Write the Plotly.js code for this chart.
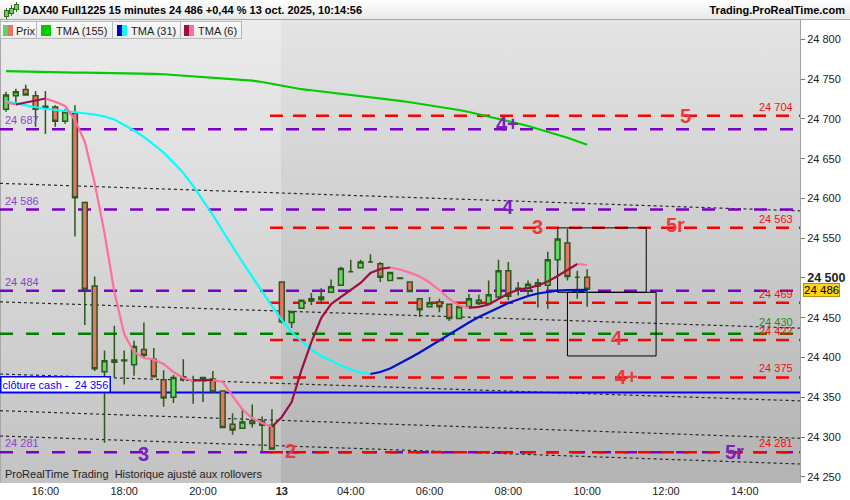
<!DOCTYPE html>
<html><head><meta charset="utf-8">
<script src="https://cdn.plot.ly/plotly-3.0.1.min.js"></script>
<style>
body{margin:0;background:#fff;font-family:"Liberation Sans",Arial,sans-serif;}
#wrap{position:relative;width:850px;height:500px;overflow:hidden;background:#fff;}
#bgFri{position:absolute;top:20px;height:463px;left:0;width:281px;background:linear-gradient(#ececec,#c3c3c3);border-left:1px solid #a8a8a8;box-sizing:border-box;}
#bgMon{position:absolute;top:20px;height:463px;left:281px;width:519px;background:linear-gradient(#e4e4e4,#b3b3b3);}
#chart{position:absolute;left:0;top:0;width:850px;height:500px;}
#hdr{position:absolute;left:0;top:0;width:850px;height:20px;background:linear-gradient(#ffffff,#e8e8e8);border-bottom:1px solid #a9a9a9;box-sizing:border-box;font-weight:bold;font-size:11px;color:#000;}
#hdr .zz-t{position:absolute;left:23px;top:2px;line-height:16px;white-space:nowrap;}
#hdr .zz-r{position:absolute;right:5px;top:2px;line-height:16px;white-space:nowrap;}
.zz-ic{position:absolute;width:3px;background:#5fd35f;border:1px solid #3a6a20;}
.zz-icw{position:absolute;width:1px;background:#3a6a20;}
#zztabs{position:absolute;left:0;top:21px;height:19px;font-size:11px;color:#222;}
.zz-tab{position:absolute;top:0;height:18px;line-height:18px;background:linear-gradient(#fafafa,#ececec);border:1px solid #b9b9b9;box-sizing:border-box;white-space:nowrap;}
.zz-sw{position:absolute;top:3px;height:11px;}
.zz-tx{position:absolute;top:0;}
</style></head>
<body>
<div id="wrap">
  <div id="bgFri"></div>
  <div id="bgMon"></div>
  <div id="chart"></div>
  <div id="hdr">
    <div class="zz-icw" style="left:6px;top:8px;height:11px"></div><div class="zz-ic" style="left:4px;top:10px;height:5px"></div>
    <div class="zz-icw" style="left:11px;top:5px;height:11px"></div><div class="zz-ic" style="left:9px;top:8px;height:4px"></div>
    <div class="zz-icw" style="left:16px;top:2px;height:10px"></div><div class="zz-ic" style="left:14px;top:4px;height:4px"></div>
    <span class="zz-t">DAX40 Full1225 15 minutes 24 486 +0,44 % 13 oct. 2025, 10:14:56</span>
    <span class="zz-r">Trading.ProRealTime.com</span>
  </div>
  <div id="zztabs">
    <div class="zz-tab" style="left:0;width:37px"><div class="zz-sw" style="left:2px;width:5px;background:#5fd35f"></div><div class="zz-sw" style="left:7px;width:5px;background:#e8736b"></div><span class="zz-tx" style="left:15px">Prix</span></div>
    <div class="zz-tab" style="left:36px;width:77px"><div class="zz-sw" style="left:4px;width:10px;background:#00cc00"></div><span class="zz-tx" style="left:19px">TMA (155)</span></div>
    <div class="zz-tab" style="left:112px;width:69px"><div class="zz-sw" style="left:4px;width:5px;background:#0000cc"></div><div class="zz-sw" style="left:9px;width:5px;background:#00ffff"></div><span class="zz-tx" style="left:18px">TMA (31)</span></div>
    <div class="zz-tab" style="left:180px;width:62px"><div class="zz-sw" style="left:3px;width:5px;background:#9b1040"></div><div class="zz-sw" style="left:8px;width:5px;background:#ff6f9c"></div><span class="zz-tx" style="left:17px">TMA (6)</span></div>
  </div>
</div>
<script>
// ---- data ----
const open  = [24712,24729,24737,24729,24714,24715,24697,24707,24595,24490, 24382,24394,24396,24391,24410,24398,24372,24350,24373,24372, 24372,24373,24358,24316,24311,24321,24320,24315,24495,24444, 24462,24471,24473,24482,24491,24508,24513,24520,24518,24497, 24499.5,24495,24474,24464,24470,24467,24449,24464,24472,24468, 24476,24509,24486,24484,24490,24491,24523,24544,24501,24501];
const high  = [24734,24738,24743,24735,24735,24717,24712,24717,24596,24502, 24409,24440,24409,24421,24444,24412,24384,24378,24398,24377, 24376,24383,24359,24330,24336,24341,24326,24335,24496,24458, 24472,24481,24487,24498,24514,24523,24523,24530,24520,24507, 24500.5,24496,24475,24476,24474,24467,24466,24480,24479,24497, 24523,24520,24495,24497,24499,24533,24562,24562,24509,24511];
const low   = [24709,24719,24729,24690,24681,24690,24694,24552,24441,24383, 24293,24375,24366,24377,24399,24375,24338,24343,24370,24342, 24344,24357,24312,24303,24311,24312,24282,24284,24443,24437, 24461,24466,24468,24481,24490,24507,24512,24519,24495,24497, 24499,24482,24451,24463,24457,24446,24449,24463,24466,24466, 24473,24472,24478,24478,24463,24461,24512,24497,24474,24464];
const close = [24730,24734,24730,24712,24716,24697,24709,24601,24486,24386, 24396,24397,24397,24414,24403,24376,24349,24375,24376,24371, 24375,24357,24312,24309,24319,24317,24315,24285,24445,24458, 24472,24474,24476,24489,24512,24508,24520,24520,24501,24507, 24500,24483,24460,24469,24464,24449,24464,24474,24468,24479, 24509,24477,24487,24492,24494,24523,24549,24502,24501,24486];
const tma155 = [24760.1,24759.7,24759.3,24759.0,24758.7,24758.5,24758.3,24758.2,24758.1,24758.0, 24757.8,24757.7,24757.6,24757.3,24757.1,24756.6,24756.1,24755.3,24754.4,24753.6, 24752.7,24751.8,24750.9,24750.0,24749.2,24748.2,24746.4,24744.1,24741.7,24739.4, 24737.3,24736.0,24734.6,24733.2,24731.8,24730.3,24728.8,24727.3,24725.8,24724.3, 24722.6,24720.9,24719.1,24717.4,24715.5,24713.5,24711.2,24708.7,24705.9,24703.1, 24700.4,24697.4,24694.2,24691.0,24687.4,24683.9,24680.1,24676.2,24671.9,24667.4];
const tma31 = [24722.1,24719.4,24716.8,24714.6,24712.7,24711.2,24709.9,24708.7,24707.4,24705.5, 24703.0,24699.2,24692.3,24685.4,24677.3,24667.8,24657.8,24645.2,24632.0,24615.7, 24598.1,24579.2,24559.1,24539.0,24520.1,24501.3,24482.4,24464.8,24447.2,24432.1, 24420.2,24410.1,24401.9,24395.7,24390.0,24385.0,24381.2,24379.3,24381.8,24386.2, 24392.5,24399.4,24406.3,24413.9,24422.1,24429.6,24436.8,24444.1,24451.0,24457.3, 24462.7,24468.6,24473.0,24477.4,24480.5,24482.4,24484.0,24484.7,24484.9,24485.0];
const tma6 = [24720.6,24718.1,24720.6,24723.4,24725.6,24721.6,24716.2,24698.6,24671.3,24619.4, 24556.6,24482.4,24429.6,24407.0,24399.4,24397.5,24391.9,24381.8,24374.3,24371.2, 24371.5,24371.9,24369.3,24351.7,24334.7,24324.0,24317.7,24313.1,24325.3,24344.1, 24384.3,24419.5,24449.7,24467.3,24476.1,24484.3,24493.7,24506.3,24511.3,24513.2, 24510.7,24506.7,24501.9,24494.3,24484.9,24473.6,24465.4,24462.5,24463.8,24466.7, 24473.6,24480.5,24485.3,24487.2,24490.6,24495.6,24502.5,24510.1,24517.6,24516.3];

const xTickIdx  = [4, 12, 20, 28, 35, 43, 51, 59, 67, 75];
const xTickText = ['16:00','18:00','20:00','<b>13</b>','04:00','06:00','08:00','10:00','12:00','14:00'];
const yTickVals = [24250,24300,24350,24400,24450,24500,24550,24600,24650,24700,24750,24800];

const purpleLevels = [24687, 24586, 24484, 24281];
const redLevels    = [24704, 24563, 24469, 24422, 24375, 24281];
const greenLevels  = [24430];
const cashClose    = 24356;
const lastPrice    = 24486;
const trendStart   = [24619, 24470, 24379.3, 24333.2, 24301.4];
const trendEnd     = [24584.4, 24437, 24345.6, 24298.5, 24266.2];
const boxesIdx     = [[56, 65], [57, 66]];
const boxesVal     = [[24482, 24563], [24402, 24482]];
const redTags      = ['5', '5r', '3', '4', '4+', '2'];
const redTagLevels = [24704, 24563, 24563, 24422, 24375, 24281];
const purpleTags      = ['4+', '4', '3', '5r'];
const purpleTagLevels = [24687, 24586, 24281, 24281];

// ---- positions / styles ----
const xr = [-0.61, 80.61];
const redStart = 26.8;
const redTagX = [69.0, 68.0, 54.0, 62.0, 63.0, 28.9];
const redTagShift = [0, 3, 1, 2, 0, 1];
const purpleTagX = [50.9, 51.0, 14.0, 74.0];
const purpleTagShift = [5, 3, -2, 0];
const RED = '#ff0000', PURPLE = '#7b00c8', GREEN = '#008000', BLUE = '#0000ff';

const idx = open.map((_, i) => i);
const fmt = v => String(v).replace(/\B(?=(\d{3})+(?!\d))/g, ' ');

function runs(vals, rising) {
  const xs = [], ys = []; let on = false;
  for (let k = 0; k < vals.length - 1; k++) {
    const up = vals[k + 1] > vals[k];
    if (up === rising) {
      if (!on) { if (xs.length) { xs.push(null); ys.push(null); } xs.push(idx[k]); ys.push(vals[k]); on = true; }
      xs.push(idx[k + 1]); ys.push(vals[k + 1]);
    } else on = false;
  }
  return { xs, ys };
}

const traces = [];
traces.push({
  type: 'candlestick', x: idx, open, high, low, close,
  increasing: { fillcolor: '#5fdc5f', line: { color: '#2b5a1a', width: 1.5 } },
  decreasing: { fillcolor: '#e8736b', line: { color: '#2b5a1a', width: 1.5 } },
  whiskerwidth: 0, hoverinfo: 'skip', showlegend: false
});
traces.push({ type: 'scatter', mode: 'lines', x: idx, y: tma155, line: { color: '#00cc00', width: 2.2 }, hoverinfo: 'skip', showlegend: false });
const c31d = runs(tma31, false), c31u = runs(tma31, true);
traces.push({ type: 'scatter', mode: 'lines', x: c31d.xs, y: c31d.ys, line: { color: '#00ffff', width: 2.2 }, hoverinfo: 'skip', showlegend: false });
traces.push({ type: 'scatter', mode: 'lines', x: c31u.xs, y: c31u.ys, line: { color: '#0010cc', width: 2.2 }, hoverinfo: 'skip', showlegend: false });
const c6d = runs(tma6, false), c6u = runs(tma6, true);
traces.push({ type: 'scatter', mode: 'lines', x: c6d.xs, y: c6d.ys, line: { color: '#ff6f9c', width: 2.2 }, hoverinfo: 'skip', showlegend: false });
traces.push({ type: 'scatter', mode: 'lines', x: c6u.xs, y: c6u.ys, line: { color: '#9b1040', width: 2.2 }, hoverinfo: 'skip', showlegend: false });

const shapes = [];
trendStart.forEach((v, k) => shapes.push({ type: 'line', layer: 'below', xref: 'x', yref: 'y', x0: xr[0], x1: xr[1], y0: v, y1: trendEnd[k], line: { color: '#2a2a2a', width: 1.2, dash: '3px,3px' } }));
purpleLevels.forEach(v => shapes.push({ type: 'line', layer: 'below', xref: 'x', yref: 'y', x0: xr[0], x1: xr[1], y0: v, y1: v, line: { color: PURPLE, width: 2.5, dash: '13px,13px' } }));
greenLevels.forEach(v => shapes.push({ type: 'line', layer: 'below', xref: 'x', yref: 'y', x0: xr[0], x1: xr[1], y0: v, y1: v, line: { color: GREEN, width: 2.5, dash: '13px,13px' } }));
redLevels.forEach(v => shapes.push({ type: 'line', layer: 'below', xref: 'x', yref: 'y', x0: redStart, x1: xr[1], y0: v, y1: v, line: { color: RED, width: 2.5, dash: '13px,10px' } }));
shapes.push({ type: 'line', layer: 'below', xref: 'x', yref: 'y', x0: xr[0], x1: xr[1], y0: cashClose, y1: cashClose, line: { color: BLUE, width: 2 } });
boxesIdx.forEach((b, k) => shapes.push({ type: 'rect', layer: 'below', xref: 'x', yref: 'y', x0: b[0], x1: b[1], y0: boxesVal[k][0], y1: boxesVal[k][1], line: { color: '#000', width: 1 }, fillcolor: 'rgba(0,0,0,0)' }));

const ann = [];
purpleLevels.forEach(v => ann.push({ xref: 'paper', yref: 'y', x: 0.004, y: v, xanchor: 'left', yanchor: 'bottom', yshift: 1, showarrow: false, text: fmt(v), font: { size: 11, color: '#8a44cc' } }));
redLevels.forEach(v => ann.push({ xref: 'paper', yref: 'y', x: 0.994, y: v, xanchor: 'right', yanchor: 'bottom', yshift: 1, showarrow: false, text: fmt(v), font: { size: 11, color: '#ee1111' } }));
greenLevels.forEach(v => ann.push({ xref: 'paper', yref: 'y', x: 0.994, y: v, xanchor: 'right', yanchor: 'bottom', yshift: 4, showarrow: false, text: fmt(v), font: { size: 11, color: '#1e8a1e' } }));
redTags.forEach((t, k) => ann.push({ xref: 'x', yref: 'y', x: redTagX[k], y: redTagLevels[k], yshift: redTagShift[k], xanchor: 'center', yanchor: 'middle', showarrow: false, text: '<b>' + t + '</b>', font: { size: 20, color: '#e83c3c' } }));
purpleTags.forEach((t, k) => ann.push({ xref: 'x', yref: 'y', x: purpleTagX[k], y: purpleTagLevels[k], yshift: purpleTagShift[k], xanchor: 'center', yanchor: 'middle', showarrow: false, text: '<b>' + t + '</b>', font: { size: 20, color: '#7a22c0' } }));
ann.push({ xref: 'paper', yref: 'y', x: 0, y: cashClose, xanchor: 'left', yanchor: 'bottom', yshift: 0, showarrow: false, text: 'clôture cash -  ' + fmt(cashClose), font: { size: 11, color: BLUE }, bgcolor: '#ffffff', bordercolor: BLUE, borderwidth: 1.5, borderpad: 1 });
ann.push({ xref: 'paper', yref: 'paper', x: 0.004, y: 0, xanchor: 'left', yanchor: 'bottom', yshift: 1, showarrow: false, text: 'ProRealTime Trading  Historique ajusté aux rollovers', font: { size: 11, color: '#222' } });
ann.push({ xref: 'paper', yref: 'y', x: 1, y: lastPrice, xanchor: 'left', yanchor: 'middle', xshift: 3, yshift: -1, showarrow: false, text: fmt(lastPrice), font: { size: 11.5, color: '#000' }, bgcolor: '#ffd21a', bordercolor: '#b89000', borderwidth: 1, borderpad: 0 });

const yTickText = yTickVals.map(v => v === 24500 ? '<b><span style="font-size:12.5px">' + fmt(v) + '</span></b>' : fmt(v));

const layout = {
  width: 850, height: 500,
  margin: { l: 0, r: 50, t: 20, b: 17, pad: 0 },
  paper_bgcolor: 'rgba(0,0,0,0)', plot_bgcolor: 'rgba(0,0,0,0)',
  font: { family: 'Liberation Sans, Arial, sans-serif', size: 11, color: '#222' },
  showlegend: false,
  xaxis: { type: 'linear', range: xr, rangeslider: { visible: false }, showgrid: false, zeroline: false, showline: false,
           tickmode: 'array', tickvals: xTickIdx, ticktext: xTickText, ticks: '', tickfont: { size: 11, color: '#222' }, fixedrange: true },
  yaxis: { side: 'right', range: [24242.3, 24824.3], showgrid: false, zeroline: false, showline: true, linecolor: '#a0a0a0', linewidth: 1,
           ticks: 'outside', ticklen: 4, tickcolor: '#777', tickmode: 'array', tickvals: yTickVals, ticktext: yTickText,
           tickfont: { size: 11, color: '#222' }, fixedrange: true },
  shapes, annotations: ann
};
Plotly.newPlot('chart', traces, layout, { displayModeBar: false, staticPlot: true });
</script>
</body></html>
